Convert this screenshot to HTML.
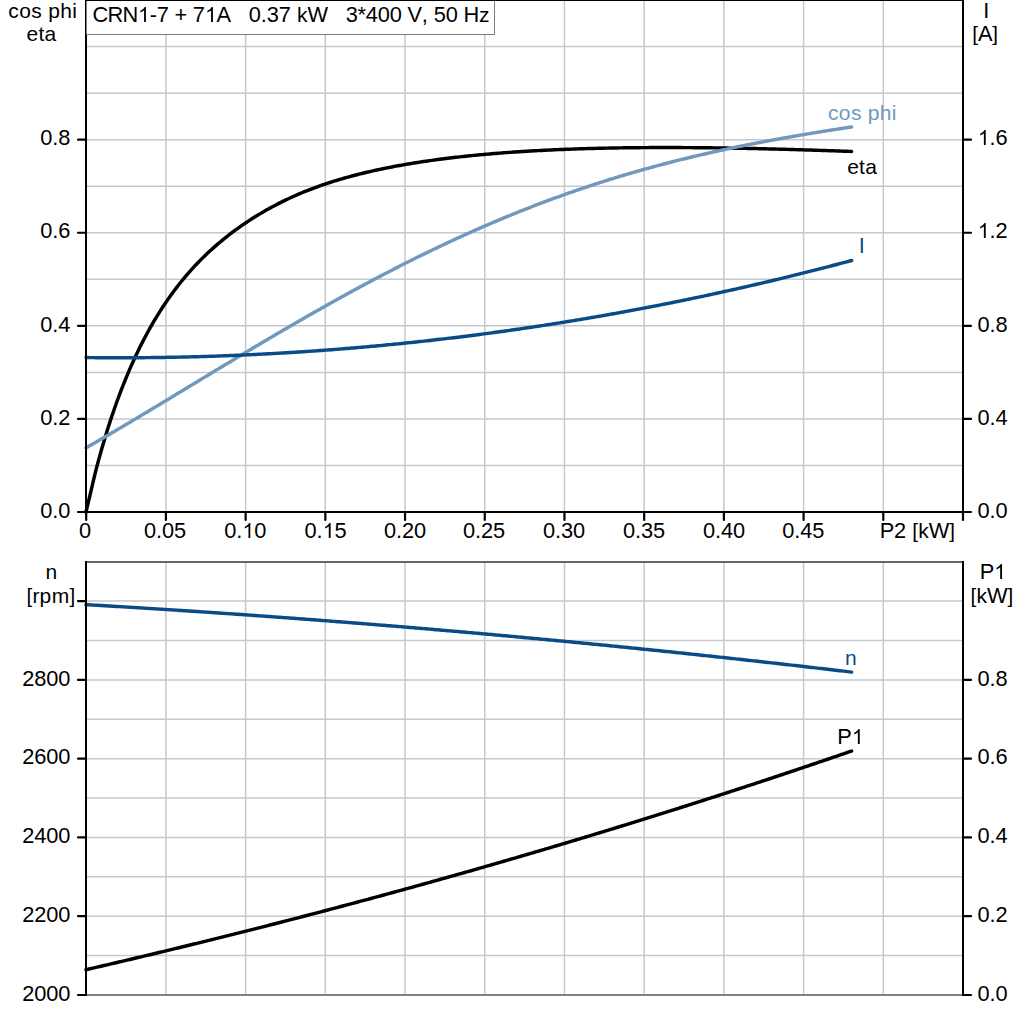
<!DOCTYPE html>
<html><head><meta charset="utf-8"><title>CRN1-7 motor curves</title>
<style>html,body{margin:0;padding:0;background:#fff;}svg{display:block;}text{font-family:"Liberation Sans",sans-serif;font-size:21.00px;fill:#000;}</style></head><body>
<svg width="1024" height="1024" viewBox="0 0 1024 1024">
<rect x="0" y="0" width="1024" height="1024" fill="#fff"/>
<g stroke="#c5c8cc" stroke-width="1.5" fill="none">
<line x1="165.91" y1="0.00" x2="165.91" y2="512.00"/>
<line x1="245.62" y1="0.00" x2="245.62" y2="512.00"/>
<line x1="325.33" y1="0.00" x2="325.33" y2="512.00"/>
<line x1="405.04" y1="0.00" x2="405.04" y2="512.00"/>
<line x1="484.75" y1="0.00" x2="484.75" y2="512.00"/>
<line x1="564.46" y1="0.00" x2="564.46" y2="512.00"/>
<line x1="644.17" y1="0.00" x2="644.17" y2="512.00"/>
<line x1="723.88" y1="0.00" x2="723.88" y2="512.00"/>
<line x1="803.59" y1="0.00" x2="803.59" y2="512.00"/>
<line x1="883.30" y1="0.00" x2="883.30" y2="512.00"/>
<line x1="86.00" y1="465.46" x2="963.00" y2="465.46"/>
<line x1="86.00" y1="418.92" x2="963.00" y2="418.92"/>
<line x1="86.00" y1="372.38" x2="963.00" y2="372.38"/>
<line x1="86.00" y1="325.84" x2="963.00" y2="325.84"/>
<line x1="86.00" y1="279.30" x2="963.00" y2="279.30"/>
<line x1="86.00" y1="232.76" x2="963.00" y2="232.76"/>
<line x1="86.00" y1="186.22" x2="963.00" y2="186.22"/>
<line x1="86.00" y1="139.68" x2="963.00" y2="139.68"/>
<line x1="86.00" y1="93.14" x2="963.00" y2="93.14"/>
<line x1="86.00" y1="46.60" x2="963.00" y2="46.60"/>
<line x1="165.91" y1="562.00" x2="165.91" y2="995.00"/>
<line x1="245.62" y1="562.00" x2="245.62" y2="995.00"/>
<line x1="325.33" y1="562.00" x2="325.33" y2="995.00"/>
<line x1="405.04" y1="562.00" x2="405.04" y2="995.00"/>
<line x1="484.75" y1="562.00" x2="484.75" y2="995.00"/>
<line x1="564.46" y1="562.00" x2="564.46" y2="995.00"/>
<line x1="644.17" y1="562.00" x2="644.17" y2="995.00"/>
<line x1="723.88" y1="562.00" x2="723.88" y2="995.00"/>
<line x1="803.59" y1="562.00" x2="803.59" y2="995.00"/>
<line x1="883.30" y1="562.00" x2="883.30" y2="995.00"/>
<line x1="86.00" y1="955.61" x2="963.00" y2="955.61"/>
<line x1="86.00" y1="916.22" x2="963.00" y2="916.22"/>
<line x1="86.00" y1="876.83" x2="963.00" y2="876.83"/>
<line x1="86.00" y1="837.44" x2="963.00" y2="837.44"/>
<line x1="86.00" y1="798.05" x2="963.00" y2="798.05"/>
<line x1="86.00" y1="758.66" x2="963.00" y2="758.66"/>
<line x1="86.00" y1="719.27" x2="963.00" y2="719.27"/>
<line x1="86.00" y1="679.88" x2="963.00" y2="679.88"/>
<line x1="86.00" y1="640.49" x2="963.00" y2="640.49"/>
<line x1="86.00" y1="601.10" x2="963.00" y2="601.10"/>
</g>
<g fill="none" stroke-width="3.45" stroke-linecap="round" stroke-linejoin="round">
<path d="M86.00,512.00 L88.00,503.52 L90.00,495.04 L92.00,486.56 L94.00,478.08 L95.99,469.96 L97.99,462.40 L99.99,455.09 L101.99,448.01 L103.99,441.16 L105.99,434.52 L107.99,428.09 L109.99,421.86 L111.99,415.82 L113.99,409.95 L115.98,404.26 L117.98,398.73 L119.98,393.36 L121.98,388.14 L123.98,383.07 L125.98,378.13 L127.98,373.34 L129.98,368.67 L131.98,364.12 L133.97,359.70 L135.97,355.39 L137.97,351.19 L139.97,347.10 L141.97,343.12 L143.97,339.23 L145.97,335.44 L147.97,331.75 L149.97,328.15 L151.97,324.63 L153.96,321.20 L155.96,317.85 L157.96,314.59 L159.96,311.39 L161.96,308.28 L163.96,305.23 L165.96,302.26 L167.96,299.36 L169.96,296.52 L171.96,293.74 L173.95,291.03 L175.95,288.37 L177.95,285.78 L179.95,283.24 L181.95,280.76 L183.95,278.33 L185.95,275.95 L187.95,273.62 L189.95,271.35 L191.94,269.12 L193.94,266.93 L195.94,264.80 L197.94,262.70 L199.94,260.65 L201.94,258.64 L203.94,256.67 L205.94,254.74 L207.94,252.84 L209.94,250.99 L211.93,249.17 L213.93,247.38 L215.93,245.62 L217.93,243.90 L219.93,242.21 L221.93,240.55 L223.93,238.92 L225.93,237.32 L227.93,235.75 L229.92,234.21 L231.92,232.69 L233.92,231.19 L235.92,229.73 L237.92,228.28 L239.92,226.86 L241.92,225.46 L243.92,224.09 L245.92,222.73 L247.92,221.40 L249.91,220.09 L251.91,218.81 L253.91,217.54 L255.91,216.29 L257.91,215.07 L259.91,213.86 L261.91,212.67 L263.91,211.51 L265.91,210.36 L267.90,209.23 L269.90,208.12 L271.90,207.03 L273.90,205.96 L275.90,204.91 L277.90,203.87 L279.90,202.85 L281.90,201.85 L283.90,200.86 L285.90,199.90 L287.89,198.95 L289.89,198.02 L291.89,197.10 L293.89,196.20 L295.89,195.32 L297.89,194.45 L299.89,193.60 L301.89,192.76 L303.89,191.94 L305.89,191.13 L307.88,190.34 L309.88,189.56 L311.88,188.80 L313.88,188.05 L315.88,187.31 L317.88,186.58 L319.88,185.87 L321.88,185.17 L323.88,184.48 L325.87,183.81 L327.87,183.15 L329.87,182.49 L331.87,181.85 L333.87,181.22 L335.87,180.60 L337.87,180.00 L339.87,179.40 L341.87,178.81 L343.87,178.23 L345.86,177.67 L347.86,177.11 L349.86,176.56 L351.86,176.02 L353.86,175.49 L355.86,174.97 L357.86,174.46 L359.86,173.95 L361.86,173.46 L363.85,172.97 L365.85,172.49 L367.85,172.02 L369.85,171.56 L371.85,171.10 L373.85,170.66 L375.85,170.22 L377.85,169.78 L379.85,169.36 L381.85,168.94 L383.84,168.52 L385.84,168.12 L387.84,167.72 L389.84,167.33 L391.84,166.94 L393.84,166.56 L395.84,166.18 L397.84,165.82 L399.84,165.45 L401.83,165.10 L403.83,164.74 L405.83,164.40 L407.83,164.06 L409.83,163.72 L411.83,163.39 L413.83,163.07 L415.83,162.75 L417.83,162.43 L419.83,162.12 L421.82,161.82 L423.82,161.52 L425.82,161.22 L427.82,160.93 L429.82,160.65 L431.82,160.36 L433.82,160.09 L435.82,159.81 L437.82,159.55 L439.82,159.28 L441.81,159.02 L443.81,158.77 L445.81,158.52 L447.81,158.27 L449.81,158.02 L451.81,157.78 L453.81,157.55 L455.81,157.32 L457.81,157.09 L459.80,156.87 L461.80,156.65 L463.80,156.43 L465.80,156.22 L467.80,156.01 L469.80,155.80 L471.80,155.60 L473.80,155.40 L475.80,155.20 L477.80,155.01 L479.79,154.82 L481.79,154.64 L483.79,154.45 L485.79,154.27 L487.79,154.10 L489.79,153.93 L491.79,153.76 L493.79,153.59 L495.79,153.42 L497.78,153.26 L499.78,153.11 L501.78,152.95 L503.78,152.80 L505.78,152.65 L507.78,152.50 L509.78,152.36 L511.78,152.22 L513.78,152.08 L515.78,151.94 L517.77,151.81 L519.77,151.68 L521.77,151.55 L523.77,151.43 L525.77,151.30 L527.77,151.18 L529.77,151.06 L531.77,150.95 L533.77,150.83 L535.77,150.72 L537.76,150.62 L539.76,150.51 L541.76,150.41 L543.76,150.30 L545.76,150.20 L547.76,150.11 L549.76,150.01 L551.76,149.92 L553.76,149.83 L555.75,149.74 L557.75,149.65 L559.75,149.57 L561.75,149.49 L563.75,149.41 L565.75,149.33 L567.75,149.25 L569.75,149.18 L571.75,149.10 L573.75,149.03 L575.74,148.97 L577.74,148.90 L579.74,148.83 L581.74,148.77 L583.74,148.71 L585.74,148.65 L587.74,148.59 L589.74,148.54 L591.74,148.48 L593.73,148.43 L595.73,148.38 L597.73,148.33 L599.73,148.28 L601.73,148.24 L603.73,148.19 L605.73,148.15 L607.73,148.11 L609.73,148.07 L611.73,148.03 L613.72,148.00 L615.72,147.96 L617.72,147.93 L619.72,147.90 L621.72,147.87 L623.72,147.84 L625.72,147.81 L627.72,147.78 L629.72,147.76 L631.71,147.74 L633.71,147.72 L635.71,147.70 L637.71,147.68 L639.71,147.66 L641.71,147.64 L643.71,147.63 L645.71,147.62 L647.71,147.60 L649.71,147.59 L651.70,147.58 L653.70,147.58 L655.70,147.57 L657.70,147.56 L659.70,147.56 L661.70,147.55 L663.70,147.55 L665.70,147.55 L667.70,147.55 L669.70,147.55 L671.69,147.56 L673.69,147.56 L675.69,147.57 L677.69,147.57 L679.69,147.58 L681.69,147.59 L683.69,147.60 L685.69,147.61 L687.69,147.62 L689.68,147.63 L691.68,147.65 L693.68,147.66 L695.68,147.68 L697.68,147.69 L699.68,147.71 L701.68,147.73 L703.68,147.75 L705.68,147.77 L707.68,147.79 L709.67,147.82 L711.67,147.84 L713.67,147.86 L715.67,147.89 L717.67,147.92 L719.67,147.94 L721.67,147.97 L723.67,148.00 L725.67,148.03 L727.66,148.06 L729.66,148.10 L731.66,148.13 L733.66,148.16 L735.66,148.20 L737.66,148.23 L739.66,148.27 L741.66,148.31 L743.66,148.35 L745.66,148.39 L747.65,148.43 L749.65,148.47 L751.65,148.51 L753.65,148.55 L755.65,148.59 L757.65,148.64 L759.65,148.68 L761.65,148.73 L763.65,148.77 L765.64,148.82 L767.64,148.87 L769.64,148.92 L771.64,148.97 L773.64,149.02 L775.64,149.07 L777.64,149.12 L779.64,149.17 L781.64,149.22 L783.64,149.28 L785.63,149.33 L787.63,149.38 L789.63,149.44 L791.63,149.50 L793.63,149.55 L795.63,149.61 L797.63,149.67 L799.63,149.73 L801.63,149.79 L803.63,149.85 L805.62,149.91 L807.62,149.97 L809.62,150.03 L811.62,150.09 L813.62,150.16 L815.62,150.22 L817.62,150.29 L819.62,150.35 L821.62,150.42 L823.61,150.48 L825.61,150.55 L827.61,150.62 L829.61,150.69 L831.61,150.75 L833.61,150.82 L835.61,150.89 L837.61,150.96 L839.61,151.03 L841.61,151.11 L843.60,151.18 L845.60,151.25 L847.60,151.32 L849.60,151.40 L851.60,151.47" stroke="#000"/>
<path d="M86.00,447.91 L88.00,446.77 L90.00,445.62 L92.00,444.47 L94.00,443.32 L95.99,442.16 L97.99,441.00 L99.99,439.84 L101.99,438.68 L103.99,437.52 L105.99,436.35 L107.99,435.18 L109.99,434.01 L111.99,432.84 L113.99,431.67 L115.98,430.49 L117.98,429.31 L119.98,428.13 L121.98,426.95 L123.98,425.76 L125.98,424.58 L127.98,423.39 L129.98,422.20 L131.98,421.01 L133.97,419.82 L135.97,418.63 L137.97,417.44 L139.97,416.24 L141.97,415.04 L143.97,413.85 L145.97,412.65 L147.97,411.45 L149.97,410.25 L151.97,409.04 L153.96,407.84 L155.96,406.64 L157.96,405.43 L159.96,404.23 L161.96,403.02 L163.96,401.81 L165.96,400.61 L167.96,399.40 L169.96,398.19 L171.96,396.98 L173.95,395.77 L175.95,394.56 L177.95,393.35 L179.95,392.14 L181.95,390.93 L183.95,389.72 L185.95,388.51 L187.95,387.30 L189.95,386.09 L191.94,384.87 L193.94,383.66 L195.94,382.45 L197.94,381.24 L199.94,380.03 L201.94,378.82 L203.94,377.61 L205.94,376.40 L207.94,375.19 L209.94,373.98 L211.93,372.77 L213.93,371.56 L215.93,370.35 L217.93,369.14 L219.93,367.94 L221.93,366.73 L223.93,365.52 L225.93,364.32 L227.93,363.11 L229.92,361.91 L231.92,360.71 L233.92,359.51 L235.92,358.30 L237.92,357.10 L239.92,355.90 L241.92,354.71 L243.92,353.51 L245.92,352.31 L247.92,351.12 L249.91,349.92 L251.91,348.73 L253.91,347.54 L255.91,346.35 L257.91,345.16 L259.91,343.97 L261.91,342.79 L263.91,341.60 L265.91,340.42 L267.90,339.24 L269.90,338.06 L271.90,336.88 L273.90,335.70 L275.90,334.53 L277.90,333.35 L279.90,332.18 L281.90,331.01 L283.90,329.84 L285.90,328.67 L287.89,327.51 L289.89,326.35 L291.89,325.18 L293.89,324.03 L295.89,322.87 L297.89,321.71 L299.89,320.56 L301.89,319.41 L303.89,318.26 L305.89,317.11 L307.88,315.97 L309.88,314.82 L311.88,313.68 L313.88,312.54 L315.88,311.41 L317.88,310.27 L319.88,309.14 L321.88,308.01 L323.88,306.89 L325.87,305.76 L327.87,304.64 L329.87,303.52 L331.87,302.40 L333.87,301.29 L335.87,300.18 L337.87,299.07 L339.87,297.96 L341.87,296.86 L343.87,295.75 L345.86,294.66 L347.86,293.56 L349.86,292.47 L351.86,291.37 L353.86,290.29 L355.86,289.20 L357.86,288.12 L359.86,287.04 L361.86,285.96 L363.85,284.89 L365.85,283.82 L367.85,282.75 L369.85,281.68 L371.85,280.62 L373.85,279.56 L375.85,278.51 L377.85,277.45 L379.85,276.40 L381.85,275.36 L383.84,274.31 L385.84,273.27 L387.84,272.23 L389.84,271.20 L391.84,270.17 L393.84,269.14 L395.84,268.11 L397.84,267.09 L399.84,266.07 L401.83,265.06 L403.83,264.05 L405.83,263.04 L407.83,262.03 L409.83,261.03 L411.83,260.03 L413.83,259.04 L415.83,258.04 L417.83,257.06 L419.83,256.07 L421.82,255.09 L423.82,254.11 L425.82,253.14 L427.82,252.17 L429.82,251.20 L431.82,250.23 L433.82,249.27 L435.82,248.32 L437.82,247.36 L439.82,246.41 L441.81,245.47 L443.81,244.52 L445.81,243.58 L447.81,242.65 L449.81,241.72 L451.81,240.79 L453.81,239.86 L455.81,238.94 L457.81,238.02 L459.80,237.11 L461.80,236.20 L463.80,235.29 L465.80,234.39 L467.80,233.49 L469.80,232.60 L471.80,231.71 L473.80,230.82 L475.80,229.93 L477.80,229.05 L479.79,228.18 L481.79,227.31 L483.79,226.44 L485.79,225.57 L487.79,224.71 L489.79,223.85 L491.79,223.00 L493.79,222.15 L495.79,221.31 L497.78,220.46 L499.78,219.63 L501.78,218.79 L503.78,217.96 L505.78,217.13 L507.78,216.31 L509.78,215.49 L511.78,214.68 L513.78,213.87 L515.78,213.06 L517.77,212.26 L519.77,211.46 L521.77,210.66 L523.77,209.87 L525.77,209.08 L527.77,208.30 L529.77,207.52 L531.77,206.74 L533.77,205.97 L535.77,205.20 L537.76,204.44 L539.76,203.68 L541.76,202.92 L543.76,202.17 L545.76,201.42 L547.76,200.68 L549.76,199.94 L551.76,199.20 L553.76,198.47 L555.75,197.74 L557.75,197.01 L559.75,196.29 L561.75,195.57 L563.75,194.86 L565.75,194.15 L567.75,193.44 L569.75,192.74 L571.75,192.05 L573.75,191.35 L575.74,190.66 L577.74,189.98 L579.74,189.29 L581.74,188.61 L583.74,187.94 L585.74,187.27 L587.74,186.60 L589.74,185.94 L591.74,185.28 L593.73,184.62 L595.73,183.97 L597.73,183.33 L599.73,182.68 L601.73,182.04 L603.73,181.41 L605.73,180.77 L607.73,180.14 L609.73,179.52 L611.73,178.90 L613.72,178.28 L615.72,177.67 L617.72,177.06 L619.72,176.45 L621.72,175.85 L623.72,175.25 L625.72,174.66 L627.72,174.06 L629.72,173.48 L631.71,172.89 L633.71,172.31 L635.71,171.74 L637.71,171.16 L639.71,170.59 L641.71,170.03 L643.71,169.46 L645.71,168.91 L647.71,168.35 L649.71,167.80 L651.70,167.25 L653.70,166.71 L655.70,166.17 L657.70,165.63 L659.70,165.10 L661.70,164.57 L663.70,164.04 L665.70,163.51 L667.70,162.99 L669.70,162.48 L671.69,161.96 L673.69,161.45 L675.69,160.95 L677.69,160.45 L679.69,159.95 L681.69,159.45 L683.69,158.96 L685.69,158.47 L687.69,157.98 L689.68,157.50 L691.68,157.02 L693.68,156.54 L695.68,156.06 L697.68,155.59 L699.68,155.13 L701.68,154.66 L703.68,154.20 L705.68,153.74 L707.68,153.29 L709.67,152.84 L711.67,152.39 L713.67,151.94 L715.67,151.50 L717.67,151.06 L719.67,150.62 L721.67,150.19 L723.67,149.75 L725.67,149.33 L727.66,148.90 L729.66,148.48 L731.66,148.06 L733.66,147.64 L735.66,147.23 L737.66,146.81 L739.66,146.41 L741.66,146.00 L743.66,145.60 L745.66,145.19 L747.65,144.80 L749.65,144.40 L751.65,144.01 L753.65,143.62 L755.65,143.23 L757.65,142.84 L759.65,142.46 L761.65,142.08 L763.65,141.70 L765.64,141.32 L767.64,140.95 L769.64,140.58 L771.64,140.21 L773.64,139.84 L775.64,139.47 L777.64,139.11 L779.64,138.75 L781.64,138.39 L783.64,138.04 L785.63,137.68 L787.63,137.33 L789.63,136.98 L791.63,136.63 L793.63,136.29 L795.63,135.94 L797.63,135.60 L799.63,135.26 L801.63,134.92 L803.63,134.58 L805.62,134.25 L807.62,133.91 L809.62,133.58 L811.62,133.25 L813.62,132.92 L815.62,132.59 L817.62,132.27 L819.62,131.94 L821.62,131.62 L823.61,131.30 L825.61,130.98 L827.61,130.66 L829.61,130.35 L831.61,130.03 L833.61,129.72 L835.61,129.40 L837.61,129.09 L839.61,128.78 L841.61,128.47 L843.60,128.16 L845.60,127.85 L847.60,127.55 L849.60,127.24 L851.60,126.94" stroke="#7099bd"/>
<path d="M86.00,357.57 L88.00,357.59 L90.00,357.61 L92.00,357.63 L94.00,357.65 L95.99,357.67 L97.99,357.69 L99.99,357.70 L101.99,357.71 L103.99,357.72 L105.99,357.73 L107.99,357.74 L109.99,357.75 L111.99,357.76 L113.99,357.76 L115.98,357.76 L117.98,357.77 L119.98,357.77 L121.98,357.76 L123.98,357.76 L125.98,357.76 L127.98,357.75 L129.98,357.74 L131.98,357.74 L133.97,357.73 L135.97,357.72 L137.97,357.70 L139.97,357.69 L141.97,357.67 L143.97,357.66 L145.97,357.64 L147.97,357.62 L149.97,357.60 L151.97,357.57 L153.96,357.55 L155.96,357.52 L157.96,357.50 L159.96,357.47 L161.96,357.44 L163.96,357.41 L165.96,357.38 L167.96,357.34 L169.96,357.31 L171.96,357.27 L173.95,357.23 L175.95,357.19 L177.95,357.15 L179.95,357.11 L181.95,357.06 L183.95,357.02 L185.95,356.97 L187.95,356.92 L189.95,356.87 L191.94,356.82 L193.94,356.77 L195.94,356.72 L197.94,356.66 L199.94,356.60 L201.94,356.55 L203.94,356.49 L205.94,356.42 L207.94,356.36 L209.94,356.30 L211.93,356.23 L213.93,356.17 L215.93,356.10 L217.93,356.03 L219.93,355.96 L221.93,355.88 L223.93,355.81 L225.93,355.73 L227.93,355.66 L229.92,355.58 L231.92,355.50 L233.92,355.42 L235.92,355.34 L237.92,355.25 L239.92,355.17 L241.92,355.08 L243.92,354.99 L245.92,354.90 L247.92,354.81 L249.91,354.72 L251.91,354.62 L253.91,354.53 L255.91,354.43 L257.91,354.33 L259.91,354.23 L261.91,354.13 L263.91,354.03 L265.91,353.92 L267.90,353.82 L269.90,353.71 L271.90,353.60 L273.90,353.49 L275.90,353.38 L277.90,353.27 L279.90,353.15 L281.90,353.04 L283.90,352.92 L285.90,352.80 L287.89,352.68 L289.89,352.56 L291.89,352.44 L293.89,352.31 L295.89,352.19 L297.89,352.06 L299.89,351.93 L301.89,351.80 L303.89,351.67 L305.89,351.54 L307.88,351.40 L309.88,351.27 L311.88,351.13 L313.88,350.99 L315.88,350.85 L317.88,350.71 L319.88,350.57 L321.88,350.42 L323.88,350.28 L325.87,350.13 L327.87,349.98 L329.87,349.83 L331.87,349.68 L333.87,349.53 L335.87,349.37 L337.87,349.22 L339.87,349.06 L341.87,348.90 L343.87,348.74 L345.86,348.58 L347.86,348.41 L349.86,348.25 L351.86,348.08 L353.86,347.91 L355.86,347.75 L357.86,347.57 L359.86,347.40 L361.86,347.23 L363.85,347.05 L365.85,346.88 L367.85,346.70 L369.85,346.52 L371.85,346.34 L373.85,346.16 L375.85,345.97 L377.85,345.79 L379.85,345.60 L381.85,345.42 L383.84,345.23 L385.84,345.04 L387.84,344.84 L389.84,344.65 L391.84,344.45 L393.84,344.26 L395.84,344.06 L397.84,343.86 L399.84,343.66 L401.83,343.46 L403.83,343.25 L405.83,343.05 L407.83,342.84 L409.83,342.63 L411.83,342.42 L413.83,342.21 L415.83,342.00 L417.83,341.78 L419.83,341.57 L421.82,341.35 L423.82,341.13 L425.82,340.91 L427.82,340.69 L429.82,340.47 L431.82,340.25 L433.82,340.02 L435.82,339.79 L437.82,339.56 L439.82,339.33 L441.81,339.10 L443.81,338.87 L445.81,338.63 L447.81,338.40 L449.81,338.16 L451.81,337.92 L453.81,337.68 L455.81,337.44 L457.81,337.20 L459.80,336.95 L461.80,336.71 L463.80,336.46 L465.80,336.21 L467.80,335.96 L469.80,335.71 L471.80,335.45 L473.80,335.20 L475.80,334.94 L477.80,334.68 L479.79,334.42 L481.79,334.16 L483.79,333.90 L485.79,333.64 L487.79,333.37 L489.79,333.11 L491.79,332.84 L493.79,332.57 L495.79,332.30 L497.78,332.03 L499.78,331.75 L501.78,331.48 L503.78,331.20 L505.78,330.92 L507.78,330.64 L509.78,330.36 L511.78,330.08 L513.78,329.79 L515.78,329.51 L517.77,329.22 L519.77,328.93 L521.77,328.64 L523.77,328.35 L525.77,328.06 L527.77,327.76 L529.77,327.47 L531.77,327.17 L533.77,326.87 L535.77,326.57 L537.76,326.27 L539.76,325.96 L541.76,325.66 L543.76,325.35 L545.76,325.05 L547.76,324.74 L549.76,324.43 L551.76,324.11 L553.76,323.80 L555.75,323.48 L557.75,323.17 L559.75,322.85 L561.75,322.53 L563.75,322.21 L565.75,321.89 L567.75,321.56 L569.75,321.24 L571.75,320.91 L573.75,320.58 L575.74,320.25 L577.74,319.92 L579.74,319.59 L581.74,319.26 L583.74,318.92 L585.74,318.58 L587.74,318.24 L589.74,317.90 L591.74,317.56 L593.73,317.22 L595.73,316.87 L597.73,316.53 L599.73,316.18 L601.73,315.83 L603.73,315.48 L605.73,315.13 L607.73,314.78 L609.73,314.42 L611.73,314.07 L613.72,313.71 L615.72,313.35 L617.72,312.99 L619.72,312.62 L621.72,312.26 L623.72,311.90 L625.72,311.53 L627.72,311.16 L629.72,310.79 L631.71,310.42 L633.71,310.05 L635.71,309.67 L637.71,309.30 L639.71,308.92 L641.71,308.54 L643.71,308.16 L645.71,307.78 L647.71,307.40 L649.71,307.01 L651.70,306.63 L653.70,306.24 L655.70,305.85 L657.70,305.46 L659.70,305.07 L661.70,304.68 L663.70,304.28 L665.70,303.88 L667.70,303.49 L669.70,303.09 L671.69,302.69 L673.69,302.28 L675.69,301.88 L677.69,301.47 L679.69,301.07 L681.69,300.66 L683.69,300.25 L685.69,299.84 L687.69,299.43 L689.68,299.01 L691.68,298.60 L693.68,298.18 L695.68,297.76 L697.68,297.34 L699.68,296.92 L701.68,296.50 L703.68,296.07 L705.68,295.65 L707.68,295.22 L709.67,294.79 L711.67,294.36 L713.67,293.93 L715.67,293.49 L717.67,293.06 L719.67,292.62 L721.67,292.18 L723.67,291.74 L725.67,291.30 L727.66,290.86 L729.66,290.42 L731.66,289.97 L733.66,289.52 L735.66,289.08 L737.66,288.63 L739.66,288.17 L741.66,287.72 L743.66,287.27 L745.66,286.81 L747.65,286.35 L749.65,285.89 L751.65,285.43 L753.65,284.97 L755.65,284.51 L757.65,284.04 L759.65,283.58 L761.65,283.11 L763.65,282.64 L765.64,282.17 L767.64,281.70 L769.64,281.22 L771.64,280.75 L773.64,280.27 L775.64,279.79 L777.64,279.31 L779.64,278.83 L781.64,278.35 L783.64,277.86 L785.63,277.38 L787.63,276.89 L789.63,276.40 L791.63,275.91 L793.63,275.42 L795.63,274.93 L797.63,274.43 L799.63,273.94 L801.63,273.44 L803.63,272.94 L805.62,272.44 L807.62,271.94 L809.62,271.43 L811.62,270.93 L813.62,270.42 L815.62,269.91 L817.62,269.40 L819.62,268.89 L821.62,268.38 L823.61,267.86 L825.61,267.35 L827.61,266.83 L829.61,266.31 L831.61,265.79 L833.61,265.27 L835.61,264.75 L837.61,264.22 L839.61,263.69 L841.61,263.17 L843.60,262.64 L845.60,262.11 L847.60,261.57 L849.60,261.04 L851.60,260.50" stroke="#0a4a86"/>
<path d="M86.00,604.64 L88.00,604.76 L90.00,604.88 L92.00,604.99 L94.00,605.11 L95.99,605.22 L97.99,605.34 L99.99,605.46 L101.99,605.58 L103.99,605.69 L105.99,605.81 L107.99,605.93 L109.99,606.05 L111.99,606.17 L113.99,606.29 L115.98,606.41 L117.98,606.53 L119.98,606.65 L121.98,606.77 L123.98,606.89 L125.98,607.01 L127.98,607.13 L129.98,607.25 L131.98,607.38 L133.97,607.50 L135.97,607.62 L137.97,607.74 L139.97,607.87 L141.97,607.99 L143.97,608.12 L145.97,608.24 L147.97,608.37 L149.97,608.49 L151.97,608.62 L153.96,608.74 L155.96,608.87 L157.96,608.99 L159.96,609.12 L161.96,609.25 L163.96,609.38 L165.96,609.50 L167.96,609.63 L169.96,609.76 L171.96,609.89 L173.95,610.02 L175.95,610.15 L177.95,610.28 L179.95,610.41 L181.95,610.54 L183.95,610.67 L185.95,610.80 L187.95,610.93 L189.95,611.06 L191.94,611.19 L193.94,611.32 L195.94,611.46 L197.94,611.59 L199.94,611.72 L201.94,611.86 L203.94,611.99 L205.94,612.12 L207.94,612.26 L209.94,612.39 L211.93,612.53 L213.93,612.66 L215.93,612.80 L217.93,612.94 L219.93,613.07 L221.93,613.21 L223.93,613.35 L225.93,613.48 L227.93,613.62 L229.92,613.76 L231.92,613.90 L233.92,614.03 L235.92,614.17 L237.92,614.31 L239.92,614.45 L241.92,614.59 L243.92,614.73 L245.92,614.87 L247.92,615.01 L249.91,615.15 L251.91,615.30 L253.91,615.44 L255.91,615.58 L257.91,615.72 L259.91,615.86 L261.91,616.01 L263.91,616.15 L265.91,616.29 L267.90,616.44 L269.90,616.58 L271.90,616.73 L273.90,616.87 L275.90,617.02 L277.90,617.16 L279.90,617.31 L281.90,617.45 L283.90,617.60 L285.90,617.75 L287.89,617.89 L289.89,618.04 L291.89,618.19 L293.89,618.34 L295.89,618.49 L297.89,618.64 L299.89,618.78 L301.89,618.93 L303.89,619.08 L305.89,619.23 L307.88,619.38 L309.88,619.53 L311.88,619.69 L313.88,619.84 L315.88,619.99 L317.88,620.14 L319.88,620.29 L321.88,620.44 L323.88,620.60 L325.87,620.75 L327.87,620.90 L329.87,621.06 L331.87,621.21 L333.87,621.37 L335.87,621.52 L337.87,621.68 L339.87,621.83 L341.87,621.99 L343.87,622.14 L345.86,622.30 L347.86,622.46 L349.86,622.61 L351.86,622.77 L353.86,622.93 L355.86,623.09 L357.86,623.24 L359.86,623.40 L361.86,623.56 L363.85,623.72 L365.85,623.88 L367.85,624.04 L369.85,624.20 L371.85,624.36 L373.85,624.52 L375.85,624.68 L377.85,624.85 L379.85,625.01 L381.85,625.17 L383.84,625.33 L385.84,625.49 L387.84,625.66 L389.84,625.82 L391.84,625.98 L393.84,626.15 L395.84,626.31 L397.84,626.48 L399.84,626.64 L401.83,626.81 L403.83,626.97 L405.83,627.14 L407.83,627.31 L409.83,627.47 L411.83,627.64 L413.83,627.81 L415.83,627.97 L417.83,628.14 L419.83,628.31 L421.82,628.48 L423.82,628.65 L425.82,628.82 L427.82,628.98 L429.82,629.15 L431.82,629.32 L433.82,629.50 L435.82,629.67 L437.82,629.84 L439.82,630.01 L441.81,630.18 L443.81,630.35 L445.81,630.52 L447.81,630.70 L449.81,630.87 L451.81,631.04 L453.81,631.22 L455.81,631.39 L457.81,631.56 L459.80,631.74 L461.80,631.91 L463.80,632.09 L465.80,632.26 L467.80,632.44 L469.80,632.62 L471.80,632.79 L473.80,632.97 L475.80,633.15 L477.80,633.32 L479.79,633.50 L481.79,633.68 L483.79,633.86 L485.79,634.04 L487.79,634.22 L489.79,634.39 L491.79,634.57 L493.79,634.75 L495.79,634.93 L497.78,635.12 L499.78,635.30 L501.78,635.48 L503.78,635.66 L505.78,635.84 L507.78,636.02 L509.78,636.21 L511.78,636.39 L513.78,636.57 L515.78,636.75 L517.77,636.94 L519.77,637.12 L521.77,637.31 L523.77,637.49 L525.77,637.68 L527.77,637.86 L529.77,638.05 L531.77,638.23 L533.77,638.42 L535.77,638.61 L537.76,638.79 L539.76,638.98 L541.76,639.17 L543.76,639.36 L545.76,639.54 L547.76,639.73 L549.76,639.92 L551.76,640.11 L553.76,640.30 L555.75,640.49 L557.75,640.68 L559.75,640.87 L561.75,641.06 L563.75,641.25 L565.75,641.44 L567.75,641.64 L569.75,641.83 L571.75,642.02 L573.75,642.21 L575.74,642.41 L577.74,642.60 L579.74,642.79 L581.74,642.99 L583.74,643.18 L585.74,643.38 L587.74,643.57 L589.74,643.77 L591.74,643.96 L593.73,644.16 L595.73,644.35 L597.73,644.55 L599.73,644.75 L601.73,644.94 L603.73,645.14 L605.73,645.34 L607.73,645.54 L609.73,645.74 L611.73,645.93 L613.72,646.13 L615.72,646.33 L617.72,646.53 L619.72,646.73 L621.72,646.93 L623.72,647.13 L625.72,647.33 L627.72,647.54 L629.72,647.74 L631.71,647.94 L633.71,648.14 L635.71,648.34 L637.71,648.55 L639.71,648.75 L641.71,648.95 L643.71,649.16 L645.71,649.36 L647.71,649.57 L649.71,649.77 L651.70,649.98 L653.70,650.18 L655.70,650.39 L657.70,650.59 L659.70,650.80 L661.70,651.01 L663.70,651.21 L665.70,651.42 L667.70,651.63 L669.70,651.84 L671.69,652.04 L673.69,652.25 L675.69,652.46 L677.69,652.67 L679.69,652.88 L681.69,653.09 L683.69,653.30 L685.69,653.51 L687.69,653.72 L689.68,653.93 L691.68,654.14 L693.68,654.36 L695.68,654.57 L697.68,654.78 L699.68,654.99 L701.68,655.21 L703.68,655.42 L705.68,655.63 L707.68,655.85 L709.67,656.06 L711.67,656.28 L713.67,656.49 L715.67,656.71 L717.67,656.92 L719.67,657.14 L721.67,657.35 L723.67,657.57 L725.67,657.79 L727.66,658.01 L729.66,658.22 L731.66,658.44 L733.66,658.66 L735.66,658.88 L737.66,659.10 L739.66,659.32 L741.66,659.53 L743.66,659.75 L745.66,659.97 L747.65,660.19 L749.65,660.42 L751.65,660.64 L753.65,660.86 L755.65,661.08 L757.65,661.30 L759.65,661.52 L761.65,661.75 L763.65,661.97 L765.64,662.19 L767.64,662.42 L769.64,662.64 L771.64,662.86 L773.64,663.09 L775.64,663.31 L777.64,663.54 L779.64,663.76 L781.64,663.99 L783.64,664.22 L785.63,664.44 L787.63,664.67 L789.63,664.90 L791.63,665.12 L793.63,665.35 L795.63,665.58 L797.63,665.81 L799.63,666.04 L801.63,666.27 L803.63,666.49 L805.62,666.72 L807.62,666.95 L809.62,667.18 L811.62,667.42 L813.62,667.65 L815.62,667.88 L817.62,668.11 L819.62,668.34 L821.62,668.57 L823.61,668.81 L825.61,669.04 L827.61,669.27 L829.61,669.50 L831.61,669.74 L833.61,669.97 L835.61,670.21 L837.61,670.44 L839.61,670.68 L841.61,670.91 L843.60,671.15 L845.60,671.38 L847.60,671.62 L849.60,671.86 L851.60,672.09" stroke="#0a4a86"/>
<path d="M86.00,969.71 L88.00,969.25 L90.00,968.79 L92.00,968.32 L94.00,967.86 L95.99,967.40 L97.99,966.94 L99.99,966.47 L101.99,966.01 L103.99,965.54 L105.99,965.08 L107.99,964.61 L109.99,964.14 L111.99,963.68 L113.99,963.21 L115.98,962.74 L117.98,962.27 L119.98,961.80 L121.98,961.33 L123.98,960.86 L125.98,960.39 L127.98,959.92 L129.98,959.45 L131.98,958.98 L133.97,958.50 L135.97,958.03 L137.97,957.55 L139.97,957.08 L141.97,956.60 L143.97,956.13 L145.97,955.65 L147.97,955.17 L149.97,954.70 L151.97,954.22 L153.96,953.74 L155.96,953.26 L157.96,952.78 L159.96,952.30 L161.96,951.82 L163.96,951.34 L165.96,950.86 L167.96,950.38 L169.96,949.89 L171.96,949.41 L173.95,948.92 L175.95,948.44 L177.95,947.95 L179.95,947.47 L181.95,946.98 L183.95,946.50 L185.95,946.01 L187.95,945.52 L189.95,945.03 L191.94,944.54 L193.94,944.05 L195.94,943.56 L197.94,943.07 L199.94,942.58 L201.94,942.09 L203.94,941.60 L205.94,941.10 L207.94,940.61 L209.94,940.12 L211.93,939.62 L213.93,939.13 L215.93,938.63 L217.93,938.13 L219.93,937.64 L221.93,937.14 L223.93,936.64 L225.93,936.14 L227.93,935.64 L229.92,935.15 L231.92,934.64 L233.92,934.14 L235.92,933.64 L237.92,933.14 L239.92,932.64 L241.92,932.14 L243.92,931.63 L245.92,931.13 L247.92,930.62 L249.91,930.12 L251.91,929.61 L253.91,929.11 L255.91,928.60 L257.91,928.09 L259.91,927.58 L261.91,927.07 L263.91,926.57 L265.91,926.06 L267.90,925.55 L269.90,925.03 L271.90,924.52 L273.90,924.01 L275.90,923.50 L277.90,922.99 L279.90,922.47 L281.90,921.96 L283.90,921.44 L285.90,920.93 L287.89,920.41 L289.89,919.89 L291.89,919.38 L293.89,918.86 L295.89,918.34 L297.89,917.82 L299.89,917.30 L301.89,916.78 L303.89,916.26 L305.89,915.74 L307.88,915.22 L309.88,914.70 L311.88,914.17 L313.88,913.65 L315.88,913.13 L317.88,912.60 L319.88,912.08 L321.88,911.55 L323.88,911.03 L325.87,910.50 L327.87,909.97 L329.87,909.44 L331.87,908.91 L333.87,908.39 L335.87,907.86 L337.87,907.33 L339.87,906.79 L341.87,906.26 L343.87,905.73 L345.86,905.20 L347.86,904.67 L349.86,904.13 L351.86,903.60 L353.86,903.06 L355.86,902.53 L357.86,901.99 L359.86,901.45 L361.86,900.92 L363.85,900.38 L365.85,899.84 L367.85,899.30 L369.85,898.76 L371.85,898.22 L373.85,897.68 L375.85,897.14 L377.85,896.60 L379.85,896.06 L381.85,895.51 L383.84,894.97 L385.84,894.42 L387.84,893.88 L389.84,893.33 L391.84,892.79 L393.84,892.24 L395.84,891.69 L397.84,891.15 L399.84,890.60 L401.83,890.05 L403.83,889.50 L405.83,888.95 L407.83,888.40 L409.83,887.85 L411.83,887.30 L413.83,886.74 L415.83,886.19 L417.83,885.64 L419.83,885.08 L421.82,884.53 L423.82,883.97 L425.82,883.42 L427.82,882.86 L429.82,882.30 L431.82,881.75 L433.82,881.19 L435.82,880.63 L437.82,880.07 L439.82,879.51 L441.81,878.95 L443.81,878.39 L445.81,877.82 L447.81,877.26 L449.81,876.70 L451.81,876.14 L453.81,875.57 L455.81,875.01 L457.81,874.44 L459.80,873.87 L461.80,873.31 L463.80,872.74 L465.80,872.17 L467.80,871.60 L469.80,871.04 L471.80,870.47 L473.80,869.90 L475.80,869.33 L477.80,868.75 L479.79,868.18 L481.79,867.61 L483.79,867.04 L485.79,866.46 L487.79,865.89 L489.79,865.31 L491.79,864.74 L493.79,864.16 L495.79,863.58 L497.78,863.01 L499.78,862.43 L501.78,861.85 L503.78,861.27 L505.78,860.69 L507.78,860.11 L509.78,859.53 L511.78,858.95 L513.78,858.37 L515.78,857.78 L517.77,857.20 L519.77,856.61 L521.77,856.03 L523.77,855.44 L525.77,854.86 L527.77,854.27 L529.77,853.69 L531.77,853.10 L533.77,852.51 L535.77,851.92 L537.76,851.33 L539.76,850.74 L541.76,850.15 L543.76,849.56 L545.76,848.97 L547.76,848.37 L549.76,847.78 L551.76,847.19 L553.76,846.59 L555.75,846.00 L557.75,845.40 L559.75,844.81 L561.75,844.21 L563.75,843.61 L565.75,843.01 L567.75,842.41 L569.75,841.82 L571.75,841.22 L573.75,840.62 L575.74,840.01 L577.74,839.41 L579.74,838.81 L581.74,838.21 L583.74,837.60 L585.74,837.00 L587.74,836.39 L589.74,835.79 L591.74,835.18 L593.73,834.58 L595.73,833.97 L597.73,833.36 L599.73,832.75 L601.73,832.14 L603.73,831.53 L605.73,830.92 L607.73,830.31 L609.73,829.70 L611.73,829.09 L613.72,828.48 L615.72,827.86 L617.72,827.25 L619.72,826.63 L621.72,826.02 L623.72,825.40 L625.72,824.79 L627.72,824.17 L629.72,823.55 L631.71,822.93 L633.71,822.31 L635.71,821.69 L637.71,821.07 L639.71,820.45 L641.71,819.83 L643.71,819.21 L645.71,818.58 L647.71,817.96 L649.71,817.34 L651.70,816.71 L653.70,816.09 L655.70,815.46 L657.70,814.83 L659.70,814.21 L661.70,813.58 L663.70,812.95 L665.70,812.32 L667.70,811.69 L669.70,811.06 L671.69,810.43 L673.69,809.80 L675.69,809.17 L677.69,808.53 L679.69,807.90 L681.69,807.27 L683.69,806.63 L685.69,806.00 L687.69,805.36 L689.68,804.72 L691.68,804.09 L693.68,803.45 L695.68,802.81 L697.68,802.17 L699.68,801.53 L701.68,800.89 L703.68,800.25 L705.68,799.61 L707.68,798.97 L709.67,798.32 L711.67,797.68 L713.67,797.03 L715.67,796.39 L717.67,795.74 L719.67,795.10 L721.67,794.45 L723.67,793.80 L725.67,793.16 L727.66,792.51 L729.66,791.86 L731.66,791.21 L733.66,790.56 L735.66,789.91 L737.66,789.25 L739.66,788.60 L741.66,787.95 L743.66,787.29 L745.66,786.64 L747.65,785.98 L749.65,785.33 L751.65,784.67 L753.65,784.02 L755.65,783.36 L757.65,782.70 L759.65,782.04 L761.65,781.38 L763.65,780.72 L765.64,780.06 L767.64,779.40 L769.64,778.74 L771.64,778.07 L773.64,777.41 L775.64,776.75 L777.64,776.08 L779.64,775.42 L781.64,774.75 L783.64,774.08 L785.63,773.42 L787.63,772.75 L789.63,772.08 L791.63,771.41 L793.63,770.74 L795.63,770.07 L797.63,769.40 L799.63,768.73 L801.63,768.05 L803.63,767.38 L805.62,766.71 L807.62,766.03 L809.62,765.36 L811.62,764.68 L813.62,764.00 L815.62,763.33 L817.62,762.65 L819.62,761.97 L821.62,761.29 L823.61,760.61 L825.61,759.93 L827.61,759.25 L829.61,758.57 L831.61,757.89 L833.61,757.20 L835.61,756.52 L837.61,755.84 L839.61,755.15 L841.61,754.47 L843.60,753.78 L845.60,753.09 L847.60,752.40 L849.60,751.72 L851.60,751.03" stroke="#000"/>
</g>
<g fill="#000">
<rect x="85" y="-1" width="879" height="2"/>
<rect x="85" y="0" width="2" height="513"/>
<rect x="962" y="0" width="2" height="513"/>
<rect x="85" y="511" width="879" height="2"/>
</g>
<g stroke="#000" stroke-width="2.2" stroke-linecap="round" fill="none">
<line x1="86.20" y1="513" x2="86.20" y2="520"/>
<line x1="165.91" y1="513" x2="165.91" y2="520"/>
<line x1="245.62" y1="513" x2="245.62" y2="520"/>
<line x1="325.33" y1="513" x2="325.33" y2="520"/>
<line x1="405.04" y1="513" x2="405.04" y2="520"/>
<line x1="484.75" y1="513" x2="484.75" y2="520"/>
<line x1="564.46" y1="513" x2="564.46" y2="520"/>
<line x1="644.17" y1="513" x2="644.17" y2="520"/>
<line x1="723.88" y1="513" x2="723.88" y2="520"/>
<line x1="803.59" y1="513" x2="803.59" y2="520"/>
<line x1="883.30" y1="513" x2="883.30" y2="520"/>
<line x1="963.00" y1="513" x2="963.00" y2="520"/>
<line x1="78" y1="512.00" x2="86" y2="512.00"/>
<line x1="963" y1="512.00" x2="971" y2="512.00"/>
<line x1="78" y1="418.92" x2="86" y2="418.92"/>
<line x1="963" y1="418.92" x2="971" y2="418.92"/>
<line x1="78" y1="325.84" x2="86" y2="325.84"/>
<line x1="963" y1="325.84" x2="971" y2="325.84"/>
<line x1="78" y1="232.76" x2="86" y2="232.76"/>
<line x1="963" y1="232.76" x2="971" y2="232.76"/>
<line x1="78" y1="139.68" x2="86" y2="139.68"/>
<line x1="963" y1="139.68" x2="971" y2="139.68"/>
</g>
<g fill="#000">
<rect x="85" y="561" width="2" height="435"/>
<rect x="962" y="561" width="2" height="435"/>
</g>
<g stroke="#000" stroke-width="2.2" stroke-linecap="round" fill="none">
<line x1="78" y1="995.00" x2="86" y2="995.00"/>
<line x1="963" y1="995.00" x2="971" y2="995.00"/>
<line x1="78" y1="916.22" x2="86" y2="916.22"/>
<line x1="963" y1="916.22" x2="971" y2="916.22"/>
<line x1="78" y1="837.44" x2="86" y2="837.44"/>
<line x1="963" y1="837.44" x2="971" y2="837.44"/>
<line x1="78" y1="758.66" x2="86" y2="758.66"/>
<line x1="963" y1="758.66" x2="971" y2="758.66"/>
<line x1="78" y1="679.88" x2="86" y2="679.88"/>
<line x1="963" y1="679.88" x2="971" y2="679.88"/>
<line x1="78" y1="601.10" x2="86" y2="601.10"/>
</g>
<rect x="87" y="561" width="875" height="2" fill="#646668"/>
<rect x="87" y="994" width="875" height="2" fill="#808080"/>
<rect x="86.5" y="1" width="408" height="33.5" fill="#fff"/>
<path d="M86.5 34.5H495M494.5 1V35" stroke="#7e7e7e" stroke-width="1" fill="none"/>
<text x="92.43 107.43 122.43 149.67 156.74 174.43 192.74 216.53 248.74 260.77 266.74 278.74" y="22.00" style="font-size:21.8px;">CRN-7+7A0.37</text>
<text x="297.05" y="22.00" style="font-size:21.0px;">k</text>
<text x="307.51 345.74 357.56 365.74 377.74 389.74 407.53 421.77 433.74 445.74 463.43" y="22.00" style="font-size:21.8px;">W3*400V,50H</text>
<text x="479.05" y="22.00" style="font-size:21.0px;">z</text>
<path d="M145.92 22.00 L144.08 22.00 L144.08 10.24 Q143.41 10.87 142.33 11.51 Q141.25 12.15 140.39 12.46 L140.39 10.68 Q141.93 9.95 143.09 8.92 Q144.25 7.88 144.73 6.91 L145.92 6.91Z" fill="#000"/>
<path d="M212.92 22.00 L211.08 22.00 L211.08 10.24 Q210.41 10.87 209.33 11.51 Q208.25 12.15 207.39 12.46 L207.39 10.68 Q208.93 9.95 210.09 8.92 Q211.25 7.88 211.73 6.91 L212.92 6.91Z" fill="#000"/>
<text x="8.35 19.26 31.35 48.26 60.26 72.27" y="18.00" style="font-size:21.0px;">cosphi</text>
<text x="26.46 38.38 44.46" y="41.00" style="font-size:21.0px;">eta</text>
<text x="983.27" y="18.00" style="font-size:21.8px;">I</text>
<text x="972.34" y="41.00" style="font-size:20.6px;">[</text>
<text x="977.93" y="41.00" style="font-size:21.8px;">A</text>
<text x="992.34" y="41.00" style="font-size:20.6px;">]</text>
<text x="40.14 52.17 58.14" y="518.00" style="font-size:21.8px;">0.0</text>
<text x="40.14 52.17 58.14" y="425.00" style="font-size:21.8px;">0.2</text>
<text x="40.14 52.17 58.14" y="332.00" style="font-size:21.8px;">0.4</text>
<text x="40.14 52.17 58.14" y="238.00" style="font-size:21.8px;">0.6</text>
<text x="40.14 52.17 58.14" y="145.00" style="font-size:21.8px;">0.8</text>
<text x="977.54 989.57 995.54" y="518.00" style="font-size:21.8px;">0.0</text>
<text x="977.54 989.57 995.54" y="425.00" style="font-size:21.8px;">0.4</text>
<text x="977.54 989.57 995.54" y="332.00" style="font-size:21.8px;">0.8</text>
<text x="989.57 995.54" y="238.00" style="font-size:21.8px;">.2</text>
<path d="M985.72 238.00 L983.88 238.00 L983.88 226.24 Q983.21 226.87 982.13 227.51 Q981.05 228.15 980.19 228.46 L980.19 226.68 Q981.73 225.95 982.89 224.92 Q984.05 223.88 984.53 222.91 L985.72 222.91Z" fill="#000"/>
<text x="989.57 995.54" y="145.00" style="font-size:21.8px;">.6</text>
<path d="M985.72 145.00 L983.88 145.00 L983.88 133.24 Q983.21 133.87 982.13 134.51 Q981.05 135.15 980.19 135.46 L980.19 133.68 Q981.73 132.95 982.89 131.92 Q984.05 130.88 984.53 129.91 L985.72 129.91Z" fill="#000"/>
<text x="78.94" y="538.00" style="font-size:21.8px;">0</text>
<text x="143.94 155.97 161.94 173.94" y="538.00" style="font-size:21.8px;">0.05</text>
<text x="224.14 236.17 254.14" y="538.00" style="font-size:21.8px;">0.0</text>
<path d="M250.32 538.00 L248.48 538.00 L248.48 526.24 Q247.81 526.87 246.73 527.51 Q245.65 528.15 244.79 528.46 L244.79 526.68 Q246.33 525.95 247.49 524.92 Q248.65 523.88 249.13 522.91 L250.32 522.91Z" fill="#000"/>
<text x="304.44 316.47 334.44" y="538.00" style="font-size:21.8px;">0.5</text>
<path d="M330.62 538.00 L328.78 538.00 L328.78 526.24 Q328.11 526.87 327.03 527.51 Q325.95 528.15 325.09 528.46 L325.09 526.68 Q326.63 525.95 327.79 524.92 Q328.95 523.88 329.43 522.91 L330.62 522.91Z" fill="#000"/>
<text x="383.94 395.97 401.94 413.94" y="538.00" style="font-size:21.8px;">0.20</text>
<text x="462.94 474.97 480.94 492.94" y="538.00" style="font-size:21.8px;">0.25</text>
<text x="542.94 554.97 560.94 572.94" y="538.00" style="font-size:21.8px;">0.30</text>
<text x="622.94 634.97 640.94 652.94" y="538.00" style="font-size:21.8px;">0.35</text>
<text x="702.94 714.97 720.94 732.94" y="538.00" style="font-size:21.8px;">0.40</text>
<text x="782.14 794.17 800.14 812.14" y="538.00" style="font-size:21.8px;">0.45</text>
<text x="879.73 893.94" y="538.00" style="font-size:21.8px;">P2</text>
<text x="912.14" y="538.00" style="font-size:20.6px;">[</text>
<text x="918.25" y="538.00" style="font-size:21.0px;">k</text>
<text x="928.71" y="538.00" style="font-size:21.8px;">W</text>
<text x="949.14" y="538.00" style="font-size:20.6px;">]</text>
<text x="827.95 838.86 850.95 867.86 879.86 891.87" y="120.00" style="font-size:21.0px;fill:#7099bd;">cosphi</text>
<text x="847.16 859.08 865.16" y="174.00" style="font-size:21.0px;">eta</text>
<text x="858.67" y="253.00" style="font-size:21.8px;fill:#0a4a86;">I</text>
<text x="45.56" y="579.00" style="font-size:21.0px;">n</text>
<text x="26.54" y="603.00" style="font-size:20.6px;">[</text>
<text x="32.40 39.56 51.65" y="603.00" style="font-size:21.0px;">rpm</text>
<text x="69.54" y="603.00" style="font-size:20.6px;">]</text>
<text x="979.63" y="579.00" style="font-size:21.8px;">P</text>
<path d="M1002.02 579.00 L1000.18 579.00 L1000.18 567.24 Q999.51 567.87 998.43 568.51 Q997.35 569.15 996.49 569.46 L996.49 567.68 Q998.03 566.95 999.19 565.92 Q1000.35 564.88 1000.83 563.91 L1002.02 563.91Z" fill="#000"/>
<text x="970.44" y="603.00" style="font-size:20.6px;">[</text>
<text x="976.55" y="603.00" style="font-size:21.0px;">k</text>
<text x="987.01" y="603.00" style="font-size:21.8px;">W</text>
<text x="1007.44" y="603.00" style="font-size:20.6px;">]</text>
<text x="22.14 34.14 46.14 58.14" y="1001.00" style="font-size:21.8px;">2000</text>
<text x="22.14 34.14 46.14 58.14" y="922.00" style="font-size:21.8px;">2200</text>
<text x="22.14 34.14 46.14 58.14" y="843.00" style="font-size:21.8px;">2400</text>
<text x="22.14 34.14 46.14 58.14" y="764.00" style="font-size:21.8px;">2600</text>
<text x="22.14 34.14 46.14 58.14" y="686.00" style="font-size:21.8px;">2800</text>
<text x="977.54 989.57 995.54" y="1001.00" style="font-size:21.8px;">0.0</text>
<text x="977.54 989.57 995.54" y="922.00" style="font-size:21.8px;">0.2</text>
<text x="977.54 989.57 995.54" y="843.00" style="font-size:21.8px;">0.4</text>
<text x="977.54 989.57 995.54" y="764.00" style="font-size:21.8px;">0.6</text>
<text x="977.54 989.57 995.54" y="686.00" style="font-size:21.8px;">0.8</text>
<text x="845.06" y="665.00" style="font-size:21.0px;fill:#0a4a86;">n</text>
<text x="837.33" y="744.00" style="font-size:21.8px;">P</text>
<path d="M859.72 744.00 L857.88 744.00 L857.88 732.24 Q857.21 732.87 856.13 733.51 Q855.05 734.15 854.19 734.46 L854.19 732.68 Q855.73 731.95 856.89 730.92 Q858.05 729.88 858.53 728.91 L859.72 728.91Z" fill="#000"/>
</svg></body></html>
